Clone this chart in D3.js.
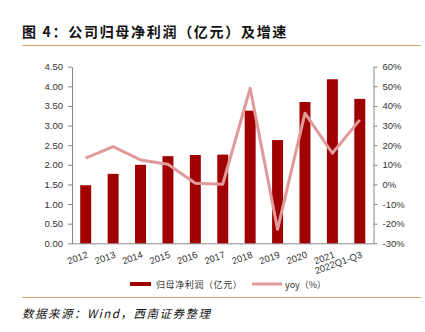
<!DOCTYPE html>
<html><head><meta charset="utf-8">
<script src="https://cdn.jsdelivr.net/npm/d3@7"></script>
<style>body{margin:0;background:#fff}svg{display:block}</style>
</head><body>
<svg id="c" width="425" height="332"></svg>
<script>
const categories = ["2012","2013","2014","2015","2016","2017","2018","2019","2020","2021","2022Q1-Q3"];
const profit = [1.48,1.77,2.00,2.22,2.25,2.26,3.38,2.63,3.60,4.18,3.68];
const yoy = [13.4,19.3,12.5,10.3,0.6,0.1,49.0,-22.9,36.3,15.9,32.9];
const leftTicks = [0,0.5,1,1.5,2,2.5,3,3.5,4,4.5];
const rightTicks = [-30,-20,-10,0,10,20,30,40,50,60];

const svg = d3.select("#c");
const font = "'Noto Sans CJK SC', sans-serif";
const L = 72, R = 373.5, T = 66.7, B = 243.3;

svg.append("text").attr("x",22).attr("y",37).attr("font-family",font).attr("font-weight","bold")
  .attr("font-size",14).attr("letter-spacing",1.7).attr("fill","#111").text("图 4：公司归母净利润（亿元）及增速");
svg.append("line").attr("x1",22).attr("x2",421).attr("y1",45.5).attr("y2",45.5).attr("stroke","#d4a46a").attr("stroke-width",1);
svg.append("line").attr("x1",22).attr("x2",421).attr("y1",297.5).attr("y2",297.5).attr("stroke","#d4a46a").attr("stroke-width",1);
svg.append("text").attr("x",22).attr("y",318).attr("font-family",font).attr("font-style","italic")
  .attr("font-size",11.5).attr("letter-spacing",1.5).attr("fill","#111").text("数据来源：Wind，西南证券整理");

const x = d3.scaleBand().domain(categories).range([L,R]).paddingInner(0.6).paddingOuter(0.3);
const yL = d3.scaleLinear().domain([0,4.5]).range([B,T]);
const yR = d3.scaleLinear().domain([-30,60]).range([B,T]);

const axisColor = "#888";
const la = svg.append("g").attr("transform",`translate(${L},0)`)
  .call(d3.axisLeft(yL).tickValues(leftTicks).tickFormat(d3.format(".2f")).tickSize(4).tickSizeOuter(0));
const ra = svg.append("g").attr("transform",`translate(${R},0)`)
  .call(d3.axisRight(yR).tickValues(rightTicks).tickFormat(d=>d+"%").tickSize(4).tickSizeOuter(0));
[la,ra].forEach(g=>{
  g.selectAll("path,line").attr("stroke",axisColor);
  g.selectAll("text").attr("font-family","'Liberation Sans', Arial, sans-serif").attr("font-size",9.5).attr("fill","#333");
});
la.selectAll("text").attr("x",-9);
ra.selectAll("text").attr("x",9);

svg.append("line").attr("x1",L).attr("x2",R).attr("y1",B+0.5).attr("y2",B+0.5).attr("stroke",axisColor);

svg.append("g").selectAll("rect").data(profit).join("rect")
  .attr("x",(d,i)=>x(categories[i])).attr("width",x.bandwidth())
  .attr("y",d=>yL(d)).attr("height",d=>B-yL(d)).attr("fill","#a00000");

const line = d3.line().x((d,i)=>x(categories[i])+x.bandwidth()/2).y(d=>yR(d));
svg.append("path").datum(yoy).attr("d",line).attr("fill","none").attr("stroke","#e09a9a")
  .attr("stroke-width",3).attr("stroke-linejoin","round");

const xa = svg.append("g");
categories.forEach((c,i)=>{
  const cx = x(c)+x.bandwidth()/2 + 3;
  xa.append("text").attr("transform",`translate(${cx},${B+14}) rotate(-20)`)
    .attr("text-anchor","end").attr("font-family","'Liberation Sans', Arial, sans-serif")
    .attr("font-size",9.5).attr("fill","#333").text(c);
});

// legend
const lg = svg.append("g");
lg.append("rect").attr("x",130).attr("y",282).attr("width",21).attr("height",4).attr("fill","#a00000");
lg.append("text").attr("x",156).attr("y",288).attr("font-family",font).attr("font-size",9).attr("letter-spacing",0.6).attr("fill","#333").text("归母净利润（亿元）");
lg.append("line").attr("x1",252).attr("x2",282).attr("y1",284).attr("y2",284).attr("stroke","#e09a9a").attr("stroke-width",3);
lg.append("text").attr("x",285).attr("y",288).attr("font-family",font).attr("font-size",9).attr("fill","#333").text("yoy（%）");
</script>
</body></html>
